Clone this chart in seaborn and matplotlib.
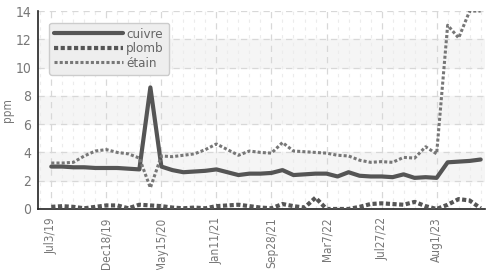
import numpy as np
import pandas as pd
import matplotlib
matplotlib.use("Agg")
import matplotlib.pyplot as plt
from matplotlib.ticker import MultipleLocator
import seaborn as sns

# ---------------- DATA ----------------
tick_labels = ["Jul3/19", "Dec18/19", "May15/20", "Jan11/21",
               "Sep28/21", "Mar7/22", "Jul27/22", "Aug1/23"]

cuivre = [3.0, 3.0, 2.95, 2.95, 2.9, 2.9, 2.9, 2.85, 2.8, 8.6,
          3.0, 2.75, 2.6, 2.65, 2.7, 2.8, 2.6, 2.4, 2.5, 2.5,
          2.55, 2.75, 2.4, 2.45, 2.5, 2.5, 2.3, 2.6, 2.35, 2.3,
          2.3, 2.25, 2.45, 2.2, 2.25, 2.2, 3.3, 3.35, 3.4, 3.5]

plomb = [0.15, 0.2, 0.15, 0.05, 0.15, 0.25, 0.25, 0.05, 0.3, 0.25,
         0.2, 0.1, 0.05, 0.1, 0.05, 0.2, 0.25, 0.3, 0.2, 0.1,
         0.05, 0.35, 0.2, 0.1, 0.8, 0.0, 0.0, 0.0, 0.15, 0.35,
         0.4, 0.35, 0.3, 0.5, 0.2, 0.0, 0.3, 0.7, 0.6, 0.05]

etain = [3.25, 3.25, 3.3, 3.75, 4.1, 4.2, 4.0, 3.9, 3.6, 1.5,
         3.75, 3.7, 3.8, 3.9, 4.2, 4.6, 4.2, 3.8, 4.1, 4.0,
         3.95, 4.7, 4.1, 4.05, 4.0, 3.95, 3.8, 3.75, 3.45, 3.3,
         3.35, 3.3, 3.65, 3.6, 4.4, 3.9, 13.0, 12.1, 14.0, 14.0]

idx = np.arange(len(cuivre))
df = pd.DataFrame({"i": idx, "cuivre": cuivre, "plomb": plomb, "étain": etain})

# ---------------- PLOT ----------------
sns.set_style("white")
plt.rcParams["font.family"] = ["DejaVu Sans"]
plt.rcParams["font.stretch"] = "condensed"

fig = plt.figure(figsize=(4.88, 2.70), dpi=100)
ax = fig.add_axes([0.078, 0.226, 0.916, 0.733])

for lo in (2, 6, 10):
    ax.axhspan(lo, lo + 2, color="#f5f5f5", zorder=0)

sns.lineplot(data=df, x="i", y="cuivre", ax=ax, color="#555555",
             linewidth=3, label="cuivre", zorder=3)
sns.lineplot(data=df, x="i", y="plomb", ax=ax, color="#555555",
             linewidth=3, linestyle=(0, (1, 0.6)), label="plomb", zorder=3)
sns.lineplot(data=df, x="i", y="étain", ax=ax, color="#777777",
             linewidth=2.2, linestyle=(0, (1, 0.7)), label="étain", zorder=3)

ax.set_xlim(-1.2, 39.4)
ax.set_ylim(0, 14)
ax.set_yticks(range(0, 15, 2))
ax.set_xticks(idx[::5])
ax.set_xticklabels(tick_labels, rotation=90)
ax.xaxis.set_minor_locator(MultipleLocator(1))

ax.grid(True, which="major", color="#d8d8d8", linestyle=(0, (5, 4)), linewidth=0.9)
ax.grid(True, which="minor", axis="x", color="#ececec", linestyle=(0, (3, 4)), linewidth=0.8)
ax.set_axisbelow(True)

for s in ("top", "right"):
    ax.spines[s].set_visible(False)
for s in ("left", "bottom"):
    ax.spines[s].set_color("#222222")
    ax.spines[s].set_linewidth(1.2)

ax.tick_params(axis="y", which="major", direction="inout", length=6, width=1,
               color="#222222", labelsize=10, labelcolor="#777777", pad=2)
ax.tick_params(axis="x", which="major", direction="inout", length=6, width=1,
               color="#222222", labelsize=8.5, labelcolor="#777777", pad=3)
ax.tick_params(axis="x", which="minor", length=0)

ax.set_xlabel("")
ax.set_ylabel("ppm", color="#777777", fontsize=8.5, labelpad=1)

leg = ax.legend(loc="upper left", bbox_to_anchor=(0.01, 0.975), fontsize=9.5,
                handlelength=5.2, handletextpad=0.25, labelspacing=0.1,
                borderpad=0.4, fancybox=True, framealpha=1,
                facecolor="#eeeeee", edgecolor="#cccccc")
for t in leg.get_texts():
    t.set_color("#666666")

fig.savefig("out.png", dpi=100)
